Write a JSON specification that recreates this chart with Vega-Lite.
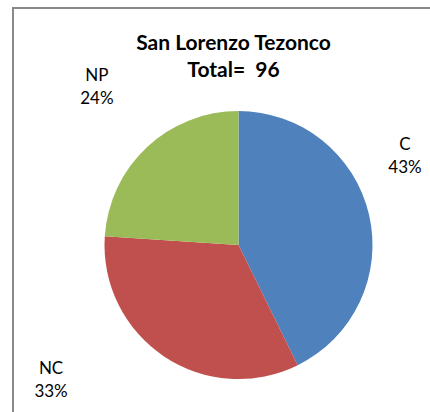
{
  "$schema": "https://vega.github.io/schema/vega-lite/v6.json",
  "width": 451,
  "height": 474,
  "autosize": {"type": "none"},
  "padding": {"left": 13, "top": 8, "right": 0, "bottom": 0},
  "background": "white",
  "title": {
    "text": ["San Lorenzo Tezonco", "Total=\u00a0\u00a096"],
    "font": "Lato",
    "fontSize": 21,
    "fontWeight": "bold",
    "color": "#000000",
    "lineHeight": 27,
    "anchor": "middle",
    "frame": "group",
    "offset": -74,
    "dx": -5
  },
  "data": {
    "values": [
      {"cat": "C", "count": 41, "label": "C\n43%"},
      {"cat": "NC", "count": 32, "label": "NC\n33%"},
      {"cat": "NP", "count": 23, "label": "NP\n24%"}
    ]
  },
  "layer": [
    {
      "data": {"values": [{"frame": 1}]},
      "mark": {"type": "rect", "fill": null, "fillOpacity": 0, "stroke": "#898989", "strokeWidth": 2},
      "encoding": {}
    },
    {
      "mark": {"type": "arc", "outerRadius": 134},
      "encoding": {
        "theta": {"field": "count", "type": "quantitative", "stack": true},
        "color": {
          "field": "cat",
          "type": "nominal",
          "scale": {"domain": ["C", "NC", "NP"], "range": ["#4F81BD", "#C0504D", "#9BBB59"]},
          "legend": null
        }
      }
    },
    {
      "mark": {"type": "text", "font": "Lato", "fontSize": 17, "color": "#000000", "lineBreak": "\n", "lineHeight": 23, "align": "center", "baseline": "middle", "dx": 36, "dy": -70},
      "encoding": {
        "theta": {"field": "count", "type": "quantitative", "stack": true},
        "radius": {"value": 134},
        "order": {"field": "cat", "sort": "ascending"},
        "text": {"condition": {"test": "datum.cat === 'C'", "field": "label"}, "value": ""}
      }
    },
    {
      "mark": {"type": "text", "font": "Lato", "fontSize": 17, "color": "#000000", "lineBreak": "\n", "lineHeight": 23, "align": "center", "baseline": "middle", "dx": -113, "dy": 13},
      "encoding": {
        "theta": {"field": "count", "type": "quantitative", "stack": true},
        "radius": {"value": 134},
        "order": {"field": "cat", "sort": "ascending"},
        "text": {"condition": {"test": "datum.cat === 'NC'", "field": "label"}, "value": ""}
      }
    },
    {
      "mark": {"type": "text", "font": "Lato", "fontSize": 17, "color": "#000000", "lineBreak": "\n", "lineHeight": 23, "align": "center", "baseline": "middle", "dx": -50, "dy": -71},
      "encoding": {
        "theta": {"field": "count", "type": "quantitative", "stack": true},
        "radius": {"value": 134},
        "order": {"field": "cat", "sort": "ascending"},
        "text": {"condition": {"test": "datum.cat === 'NP'", "field": "label"}, "value": ""}
      }
    }
  ],
  "config": {
    "view": {"stroke": null}
  }
}
